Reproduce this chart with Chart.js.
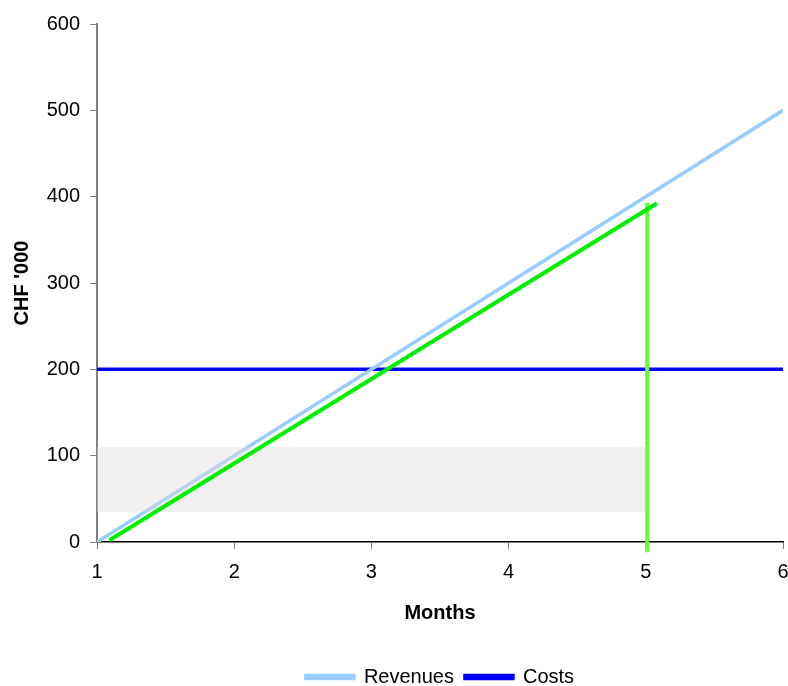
<!DOCTYPE html>
<html>
<head>
<meta charset="utf-8">
<script src="https://cdn.jsdelivr.net/npm/chart.js@4/dist/chart.umd.min.js"></script>
<style>
  html, body { margin: 0; padding: 0; background: #fff; }
  #wrap { width: 788px; height: 686px; }
</style>
</head>
<body>
<div id="wrap"><canvas id="chart"></canvas></div>
<script>
// Chart values
const months = [1, 6];
const revenues = [0, 500];
const costs = [200, 200];

// green break-even trace and marker
const traceX = [1.09, 5.08];
const traceY = [2, 392];
const markerX = [5.01, 5.01];
const markerY = [-12, 393];

// shaded band
const bandX = [1, 5];
const bandTop = [110, 110];
const bandBottom = 35;

const xTicks = [1, 2, 3, 4, 5, 6];
const yTicks = [0, 100, 200, 300, 400, 500, 600];

const font = 'Arial, "Liberation Sans", sans-serif';

function toPoints(xs, ys) {
    return xs.map((x, i) => ({ x: x, y: ys[i] }));
}

new Chart(document.getElementById('chart'), {
    type: 'line',
    data: {
        datasets: [
            {
                label: 'Revenues',
                data: toPoints(months, revenues),
                borderColor: '#99ccff',
                backgroundColor: '#99ccff',
                borderWidth: 3.5,
                pointRadius: 0,
                order: 3
            },
            {
                label: 'Costs',
                data: toPoints(months, costs),
                borderColor: '#0000ff',
                backgroundColor: '#0000ff',
                borderWidth: 3.5,
                pointRadius: 0,
                order: 3
            },
            {
                label: 'band',
                data: toPoints(bandX, bandTop),
                borderWidth: 0,
                borderColor: 'rgba(0,0,0,0)',
                backgroundColor: 'rgba(224, 220, 220, 0.45)',
                fill: { value: bandBottom },
                pointRadius: 0,
                order: 2
            },
            {
                label: 'trace',
                data: toPoints(traceX, traceY),
                borderColor: '#00ee00',
                borderWidth: 4,
                pointRadius: 0,
                order: 1
            },
            {
                label: 'marker',
                data: toPoints(markerX, markerY),
                borderColor: '#66ff33',
                borderWidth: 4,
                pointRadius: 0,
                clip: false,
                order: 1
            }
        ]
    },
    options: {
        responsive: true,
        maintainAspectRatio: false,
        animation: false,
        layout: {
            padding: { left: 0, right: 5, top: 24, bottom: -11 }
        },
        plugins: {
            tooltip: { enabled: false },
            legend: {
                position: 'bottom',
                fullSize: false,
                labels: {
                    color: '#000',
                    font: { family: font, size: 20 },
                    boxWidth: 48,
                    boxHeight: 3,
                    padding: 11,
                    filter: item => item.text === 'Revenues' || item.text === 'Costs'
                }
            }
        },
        scales: {
            x: {
                type: 'linear',
                min: 1,
                max: 6,
                afterBuildTicks: scale => {
                    scale.ticks = xTicks.map(v => ({ value: v }));
                },
                afterFit: scale => {
                    scale.height = 114;
                    scale.paddingLeft = 0;
                    scale.paddingRight = 0;
                },
                border: { color: '#000', width: 1.5 },
                grid: {
                    drawOnChartArea: false,
                    drawTicks: true,
                    tickLength: 7,
                    color: '#808080'
                },
                ticks: {
                    color: '#000',
                    padding: 11,
                    font: { family: font, size: 20 }
                },
                title: {
                    display: true,
                    text: 'Months',
                    color: '#000',
                    font: { family: font, size: 20, weight: 'bold' },
                    padding: { top: 0, bottom: 31 }
                }
            },
            y: {
                type: 'linear',
                min: 0,
                max: 600,
                afterBuildTicks: scale => {
                    scale.ticks = yTicks.map(v => ({ value: v }));
                },
                afterFit: scale => {
                    scale.width = 97;
                    scale.paddingTop = 0;
                    scale.paddingBottom = 0;
                },
                border: { color: '#808080', width: 2 },
                grid: {
                    drawOnChartArea: false,
                    drawTicks: true,
                    tickLength: 7,
                    color: '#808080'
                },
                ticks: {
                    color: '#000',
                    padding: 10,
                    font: { family: font, size: 20 }
                },
                title: {
                    display: true,
                    text: "CHF '000",
                    color: '#000',
                    font: { family: font, size: 20, weight: 'bold' },
                    padding: { top: 10, bottom: 0 }
                }
            }
        }
    }
});
</script>
</body>
</html>
